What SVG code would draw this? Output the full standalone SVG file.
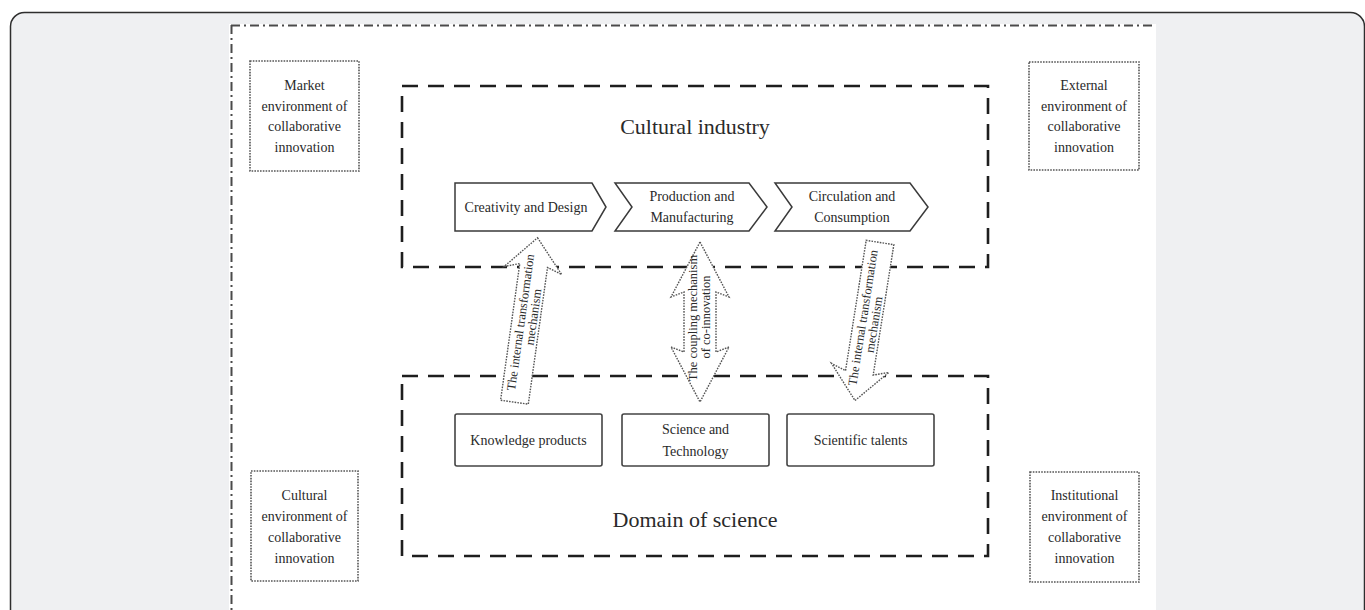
<svg xmlns="http://www.w3.org/2000/svg" width="1365" height="610" viewBox="0 0 1365 610">
<style>
text{font-family:"Liberation Serif","Times New Roman",serif;fill:#2a2a2a;text-anchor:middle}
.env{fill:#fff;stroke:#555;stroke-width:1.6;stroke-dasharray:1.6 1.2}
.et{font-size:14px}
.dash{fill:none;stroke:#1e1e1e;stroke-width:2.6;stroke-dasharray:16 10}
.chev{fill:#fff;stroke:#3a3a3a;stroke-width:1.5}
.ct{font-size:14px}
.box{fill:#fff;stroke:#444;stroke-width:1.6}
.arr{fill:#fff;stroke:#555;stroke-width:1.4;stroke-dasharray:1.6 1.2}
.at{font-size:12.5px}
.big{font-size:22px}
</style>
<rect x="10.5" y="12.5" width="1354" height="640" rx="14" fill="#eff0f2" stroke="#2e2e2e" stroke-width="1.5"/>
<rect x="229" y="24" width="927" height="600" fill="#fff"/>
<path d="M231,25.5 H1155 M231.5,25 V610" fill="none" stroke="#4a4a4a" stroke-width="2" stroke-dasharray="9 4 2 4"/>

<g id="market">
<rect class="env" x="250" y="61" width="109" height="110"/>
<text class="et" x="304.5" y="90">Market</text>
<text class="et" x="304.5" y="111">environment of</text>
<text class="et" x="304.5" y="131">collaborative</text>
<text class="et" x="304.5" y="152">innovation</text>
</g>
<g id="external">
<rect class="env" x="1029" y="62" width="110" height="108"/>
<text class="et" x="1084" y="90">External</text>
<text class="et" x="1084" y="111">environment of</text>
<text class="et" x="1084" y="131">collaborative</text>
<text class="et" x="1084" y="152">innovation</text>
</g>
<g id="cultural-env">
<rect class="env" x="251" y="471" width="107" height="110"/>
<text class="et" x="304.5" y="500">Cultural</text>
<text class="et" x="304.5" y="521">environment of</text>
<text class="et" x="304.5" y="542">collaborative</text>
<text class="et" x="304.5" y="563">innovation</text>
</g>
<g id="institutional">
<rect class="env" x="1030" y="472" width="109" height="110"/>
<text class="et" x="1084.5" y="500">Institutional</text>
<text class="et" x="1084.5" y="521">environment of</text>
<text class="et" x="1084.5" y="542">collaborative</text>
<text class="et" x="1084.5" y="563">innovation</text>
</g>

<g id="cultural-industry">
<rect class="dash" x="402" y="86" width="586" height="181"/>
<text class="big" x="695" y="134">Cultural industry</text>
</g>
<g id="domain-of-science">
<rect class="dash" x="402" y="376" width="586" height="180"/>
<text class="big" x="695" y="527">Domain of science</text>
</g>

<g id="creativity">
<path class="chev" d="M455,183 H592 L606,207 L592,231 H455 Z"/>
<text class="ct" x="526" y="212">Creativity and Design</text>
</g>
<g id="production">
<path class="chev" d="M615,183 H749 L767,207 L749,231 H615 L632,207 Z"/>
<text class="ct" x="692" y="201">Production and</text>
<text class="ct" x="692" y="222">Manufacturing</text>
</g>
<g id="circulation">
<path class="chev" d="M775,183 H910 L928,207 L910,231 H775 L792,207 Z"/>
<text class="ct" x="852" y="201">Circulation and</text>
<text class="ct" x="852" y="222">Consumption</text>
</g>

<g id="knowledge">
<rect class="box" x="455" y="414" width="147" height="52" rx="2"/>
<text class="ct" x="528.5" y="445">Knowledge products</text>
</g>
<g id="science-tech">
<rect class="box" x="622" y="414" width="147" height="52" rx="2"/>
<text class="ct" x="695.5" y="434">Science and</text>
<text class="ct" x="695.5" y="456">Technology</text>
</g>
<g id="talents">
<rect class="box" x="787" y="414" width="147" height="52" rx="2"/>
<text class="ct" x="860.5" y="445">Scientific talents</text>
</g>

<g id="connectors">
<g transform="translate(526,320) rotate(8)">
<path class="arr" d="M0,-83 L29,-50 L14,-55 L14,83 L-14,83 L-14,-55 L-29,-50 Z"/>
<g transform="rotate(-90)">
<text class="at" x="-3" y="-1">The internal transformation</text>
<text class="at" x="4" y="11">mechanism</text>
</g>
</g>
<g transform="translate(700,322)">
<path class="arr" d="M0,-80 L29,-25 L16,-30 L16,30 L29,25 L0,80 L-29,25 L-16,30 L-16,-30 L-29,-25 Z"/>
<g transform="rotate(-90)">
<text class="at" x="4" y="-3">The coupling mechanism</text>
<text class="at" x="5" y="10">of co-innovation</text>
</g>
</g>
<g transform="translate(867.5,321.5) rotate(9)">
<path class="arr" d="M0,80 L29,47 L14,52 L14,-80 L-14,-80 L-14,52 L-29,47 Z"/>
<g transform="rotate(-90)">
<text class="at" x="3" y="-1">The internal transformation</text>
<text class="at" x="-2" y="11">mechanism</text>
</g>
</g>
</g>
</svg>
